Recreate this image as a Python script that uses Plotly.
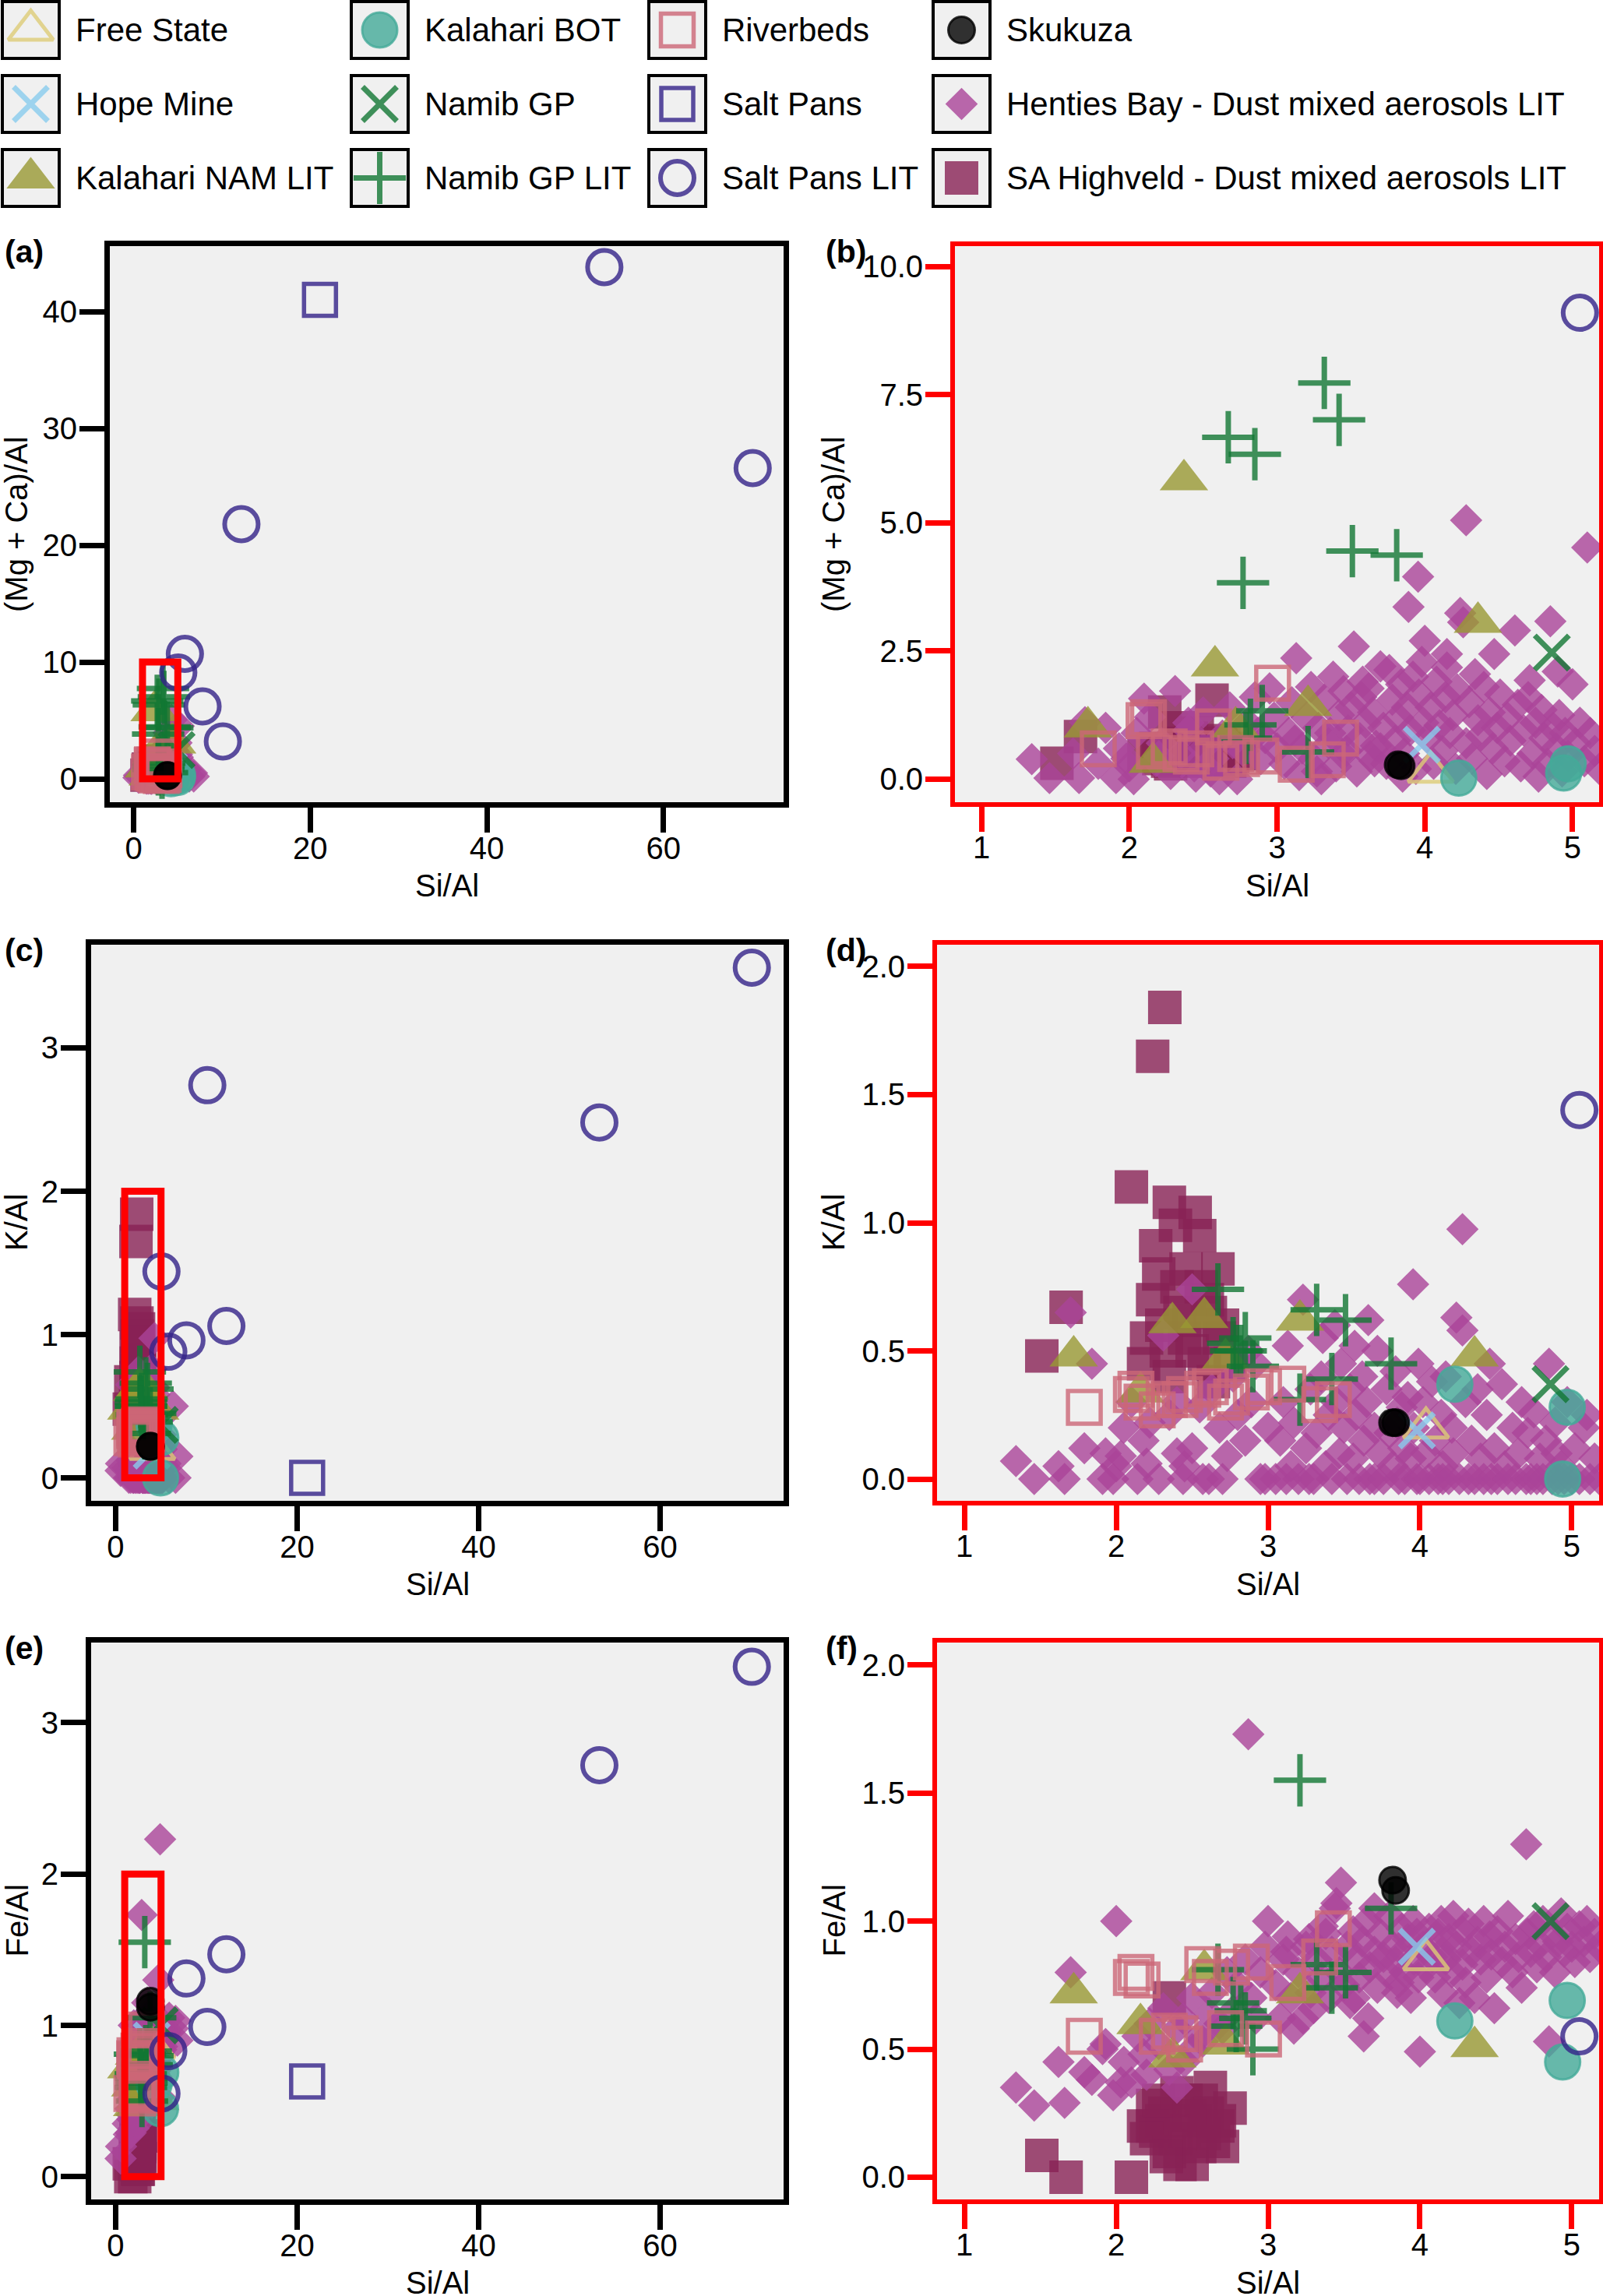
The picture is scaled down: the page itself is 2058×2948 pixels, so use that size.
import plotly.graph_objects as go

# ---- values: Si/Al, (Mg+Ca)/Al, K/Al, Fe/Al per group ----
fs_si = [4.04]
fs_mgca = [0.14]
fs_k = [0.20]
fs_fe = [0.85]

hm_si = [3.98]
hm_mgca = [0.67]
hm_k = [0.19]
hm_fe = [0.90]

kn_si = [1.72, 2.16, 2.37, 2.58, 2.72, 3.21, 4.36]
kn_mgca = [1.02, 0.33, 5.84, 2.21, 1.02, 1.44, 3.06]
kn_k = [0.48, 0.34, 0.61, 0.63, 0.47, 0.62, 0.48]
kn_fe = [0.72, 0.60, 0.47, 0.81, 0.52, 0.72, 0.51]

kb_si = [4.23, 4.97, 4.94]
kb_mgca = [0.02, 0.30, 0.12]
kb_k = [0.37, 0.28, 0.00]
kb_fe = [0.61, 0.69, 0.45]

ng_si = [4.86]
ng_mgca = [2.47]
ng_k = [0.37]
ng_fe = [1.00]

ngl_si = [2.67, 2.77, 2.79, 2.82, 2.85, 2.90, 3.21, 3.32, 3.42, 3.51, 3.81]
ngl_mgca = [6.67, 3.83, 0.80, 1.06, 6.34, 1.33, 0.53, 7.73, 7.01, 4.45, 4.37]
ngl_k = [0.74, 0.53, 0.50, 0.50, 0.55, 0.44, 0.31, 0.66, 0.39, 0.62, 0.45]
ngl_fe = [0.81, 0.68, 0.59, 0.65, 0.62, 0.50, 1.55, 0.83, 0.74, 0.80, 1.05]

rb_si = [1.79, 2.10, 2.13, 2.17, 2.27, 2.35, 2.42, 2.45, 2.57, 2.62, 2.72, 2.76, 2.89, 2.97, 3.13, 3.34, 3.43]
rb_mgca = [0.59, 1.14, 1.20, 0.55, 0.63, 0.50, 0.45, 0.59, 1.02, 0.33, 0.50, 0.40, 0.45, 1.87, 0.29, 0.38, 0.80]
rb_k = [0.28, 0.33, 0.35, 0.30, 0.27, 0.31, 0.31, 0.33, 0.35, 0.36, 0.30, 0.32, 0.34, 0.36, 0.37, 0.29, 0.31]
rb_fe = [0.55, 0.78, 0.80, 0.77, 0.55, 0.57, 0.56, 0.52, 0.83, 0.78, 0.58, 0.82, 0.84, 0.54, 0.76, 0.86, 0.97]

sp_si = [21.1]
sp_mgca = [41.0]
sp_k = [0.00]
sp_fe = [0.63]

spl_si = [70.1, 53.3, 12.2, 10.1, 7.8, 5.8, 5.05]
spl_mgca = [26.6, 43.8, 21.8, 3.2, 6.2, 10.7, 9.1]
spl_k = [3.56, 2.48, 1.06, 2.74, 0.96, 0.88, 1.44]
spl_fe = [3.37, 2.72, 1.47, 0.99, 1.31, 0.83, 0.55]

sk_si = [3.82, 3.84]
sk_mgca = [0.28, 0.26]
sk_k = [0.22, 0.22]
sk_fe = [1.16, 1.12]

hb_si = [0.55, 0.60, 1.34, 1.46, 1.62, 1.66, 1.70, 1.79, 1.84, 1.91, 1.93, 1.98,
         2.00, 2.03, 2.05, 2.10, 2.14, 2.18, 2.20, 2.22, 2.28, 2.31, 2.35,
         2.40, 2.40, 2.44, 2.45, 2.50, 2.50, 2.55, 2.57, 2.61, 2.63, 2.68,
         2.70, 2.73, 2.77, 2.80, 2.85, 2.87, 2.89, 2.92, 2.95, 2.98, 3.00,
         3.05, 3.08, 3.10, 3.12, 3.13, 3.15, 3.17, 3.20, 3.23, 3.25, 3.27,
         3.28, 3.30, 3.32, 3.35, 3.36, 3.38, 3.40, 3.42, 3.44, 3.45, 3.47,
         3.48, 3.50, 3.52, 3.54, 3.56, 3.57, 3.58, 3.60, 3.62, 3.63, 3.65,
         3.66, 3.67, 3.70, 3.70, 3.72, 3.74, 3.76, 3.78, 3.80, 3.82, 3.84,
         3.85, 3.86, 3.88, 3.89, 3.90, 3.92, 3.94, 3.955, 3.96, 3.98, 3.99,
         4.00, 4.02, 4.04, 4.06, 4.08, 4.10, 4.12, 4.14, 4.15, 4.15, 4.17, 4.19,
         4.21, 4.22, 4.24, 4.26, 4.28, 4.28, 4.30, 4.32, 4.34, 4.36, 4.38, 4.40,
         4.42, 4.44, 4.46, 4.47, 4.49, 4.51, 4.54, 4.56, 4.58, 4.61, 4.63, 4.65,
         4.67, 4.70, 4.71, 4.73, 4.75, 4.77, 4.79, 4.81, 4.83, 4.85, 4.87, 4.89,
         4.90, 4.91, 4.93, 4.95, 4.97, 5.00, 5.02, 5.05, 5.08, 5.10, 5.12, 5.15, 5.18,
         5.50, 5.90, 6.30, 6.60, 6.80]
hb_mgca = [0.10, 0.30, 0.39, 0.02, 0.50, 0.02, 1.11, 0.30, 1.00, 0.02, 0.60, 0.40,
           0.25, 0.00, 0.90, 1.57, 1.21, 0.35, 0.45, 0.70, 0.10, 1.72, 0.50,
           0.95, 1.10, 0.25, 0.05, 1.30, 0.60, 0.15, 0.40, 0.00, 0.85, 1.40,
           0.70, 0.00, 0.55, 1.10, 1.60, 0.90, 0.39, 0.80, 1.77, 1.20, 0.60,
           0.30, 0.90, 1.50, 0.75, 2.36, 0.08, 0.60, 1.20, 1.80, 0.40, 0.15,
           1.00, 0.00, 1.55, 0.70, 0.90, 2.00, 0.25, 1.25, 0.50, 1.72, 0.55,
           0.95, 1.40, 2.59, 0.15, 0.80, 1.60, 1.90, 1.10, 1.77, 0.45, 1.30,
           0.35, 0.65, 2.20, 0.60, 1.00, 0.30, 2.13, 1.55, 0.75, 1.20, 1.85,
           0.05, 0.50, 1.40, 3.36, 0.95, 2.00, 0.20, 3.95, 1.65, 2.29, 1.10,
           2.70, 0.80, 1.40, 0.30, 1.90, 1.05, 0.55, 1.60, 2.44, 2.18, 0.90, 1.25,
           0.20, 1.75, 3.24, 3.06, 5.05, 0.70, 1.50, 0.40, 2.05, 1.15, 0.85, 1.80,
           0.10, 1.30, 0.60, 2.44, 1.00, 1.65, 0.35, 1.20, 0.75, 2.90, 1.45, 0.25,
           0.95, 1.60, 1.93, 0.50, 1.10, 0.05, 1.35, 0.80, 0.30, 3.08, 1.00, 0.60,
           2.10, 1.25, 0.15, 0.90, 0.45, 1.85, 0.70, 1.10, 0.35, 4.52, 0.90, 0.55, 0.20,
           0.40, 0.80, 0.20, 0.50, 0.20]
hb_k = [0.05, 0.10, 0.07, 0.00, 0.05, 0.00, 0.65, 0.12, 0.45, 0.00, 0.10, 0.00,
        0.05, 0.09, 0.20, 0.30, 0.00, 0.15, 0.06, 0.22, 0.00, 0.56, 0.25,
        0.30, 0.10, 0.00, 0.05, 0.74, 0.12, 0.28, 0.00, 0.00, 0.35, 0.20,
        0.00, 0.09, 0.40, 0.25, 0.15, 0.50, 0.30, 0.45, 0.00, 0.00, 0.20,
        0.00, 0.15, 0.30, 0.00, 0.52, 0.05, 0.22, 0.00, 0.70, 0.12, 0.00,
        0.35, 0.00, 0.18, 0.40, 0.55, 0.05, 0.25, 0.00, 0.60, 0.30, 0.10,
        0.45, 0.20, 0.00, 0.35, 0.08, 0.52, 0.25, 0.00, 0.40, 0.15, 0.30,
        0.62, 0.00, 0.20, 0.00, 0.50, 0.10, 0.00, 0.35, 0.18, 0.05, 0.42,
        0.22, 0.00, 0.28, 0.12, 0.00, 0.32, 0.08, 0.76, 0.20, 0.00, 0.45,
        0.00, 0.30, 0.10, 0.00, 0.38, 0.15, 0.00, 0.25, 0.05, 0.00, 0.40, 0.00,
        0.20, 0.10, 0.63, 0.00, 0.975, 0.58, 0.30, 0.00, 0.15, 0.00, 0.35, 0.08,
        0.00, 0.25, 0.45, 0.00, 0.12, 0.00, 0.37, 0.05, 0.00, 0.20, 0.00, 0.10,
        0.30, 0.00, 0.18, 0.00, 0.26, 0.00, 0.08, 0.00, 0.15, 0.45, 0.00, 0.22,
        0.10, 0.00, 0.05, 0.00, 0.30, 0.00, 0.12, 0.00, 0.20, 0.25, 0.00, 0.08, 0.00,
        0.10, 0.00, 0.50, 0.00, 0.15]
hb_fe = [0.12, 0.20, 0.35, 0.28, 0.45, 0.29, 0.80, 0.41, 0.38, 0.50, 0.52, 0.32,
         1.00, 0.37, 0.45, 0.37, 0.55, 0.48, 0.40, 0.60, 0.52, 0.66, 0.42,
         0.58, 0.35, 0.62, 0.45, 0.70, 0.50, 0.55, 0.53, 0.64, 0.72, 0.60,
         0.58, 0.80, 0.65, 0.75, 0.85, 1.73, 0.70, 0.62, 0.80, 0.90, 1.00,
         0.75, 0.62, 0.85, 0.88, 0.94, 0.70, 0.58, 0.80, 0.62, 0.90, 0.93,
         0.72, 0.66, 0.85, 0.78, 0.98, 0.95, 0.70, 0.88, 1.05, 1.07, 0.80,
         1.15, 0.75, 0.90, 0.68, 0.96, 0.70, 0.85, 0.78, 0.92, 0.55, 1.00,
         0.62, 0.82, 0.88, 1.05, 0.74, 0.95, 0.86, 0.80, 1.02, 0.90, 0.84,
         0.72, 0.76, 0.97, 0.88, 0.80, 0.93, 0.70, 1.00, 0.85, 0.95, 0.78,
         0.49, 0.90, 0.82, 0.97, 0.86, 0.78, 0.95, 1.00, 0.88, 0.72, 0.85, 0.93,
         0.80, 1.02, 0.90, 0.68, 0.96, 0.83, 0.76, 0.99, 0.88, 0.70, 0.92, 0.85,
         1.00, 0.78, 0.94, 0.87, 0.66, 0.96, 0.84, 0.90, 1.02, 0.80, 0.93, 0.86,
         0.74, 1.30, 0.95, 0.88, 0.98, 0.82, 0.91, 1.00, 0.86, 0.53, 0.95, 0.80,
         2.23, 0.92, 1.03, 0.88, 0.97, 0.90, 0.84, 0.98, 0.92, 1.00, 0.86, 0.95, 0.90,
         0.95, 1.05, 0.98, 1.03, 0.90]

sa_si = [1.51, 1.67, 2.10, 2.24, 2.32, 2.35, 2.52, 2.39, 2.26, 2.46, 2.67, 2.24, 2.56, 2.62, 2.70, 2.30,
         2.45, 2.60, 2.18, 2.50, 2.75, 2.20, 2.35, 2.58, 2.42, 2.68, 2.28, 2.55, 2.40, 2.48, 2.33, 2.64]
sa_mgca = [0.31, 0.83, 0.45, 0.50, 0.60, 0.70, 0.55, 0.40, 0.35, 0.90, 0.60, 1.31, 1.54, 0.70, 0.45, 0.55,
           0.35, 0.50, 0.60, 0.45, 0.50, 0.40, 0.65, 0.40, 0.80, 0.35, 0.30, 0.60, 0.50, 0.40, 1.00, 0.75]
sa_k = [0.48, 0.67, 1.14, 1.65, 1.84, 1.08, 1.04, 0.99, 0.91, 0.82, 0.82, 0.70, 0.75, 0.65, 0.60, 0.60,
        0.55, 0.70, 0.45, 0.50, 0.45, 0.55, 0.40, 0.45, 0.65, 0.55, 0.80, 0.95, 0.75, 0.62, 0.50, 0.38]
sa_fe = [0.085, 0.00, 0.00, 0.20, 0.25, 0.70, 0.22, 0.15, 0.18, 0.30, 0.20, 0.28, 0.30, 0.35, 0.12, 0.22,
         0.18, 0.25, 0.20, 0.05, 0.27, 0.15, 0.10, 0.17, 0.05, 0.22, 0.30, 0.12, 0.33, 0.24, 0.08, 0.14]

HB = "Henties Bay - Dust mixed aerosols LIT"
SA = "SA Highveld - Dust mixed aerosols LIT"

groups = {
    "Free State": (fs_si, fs_mgca, fs_k, fs_fe),
    "Hope Mine": (hm_si, hm_mgca, hm_k, hm_fe),
    "Kalahari NAM LIT": (kn_si, kn_mgca, kn_k, kn_fe),
    "Kalahari BOT": (kb_si, kb_mgca, kb_k, kb_fe),
    "Namib GP": (ng_si, ng_mgca, ng_k, ng_fe),
    "Namib GP LIT": (ngl_si, ngl_mgca, ngl_k, ngl_fe),
    "Riverbeds": (rb_si, rb_mgca, rb_k, rb_fe),
    "Salt Pans": (sp_si, sp_mgca, sp_k, sp_fe),
    "Salt Pans LIT": (spl_si, spl_mgca, spl_k, spl_fe),
    "Skukuza": (sk_si, sk_mgca, sk_k, sk_fe),
    HB: (hb_si, hb_mgca, hb_k, hb_fe),
    SA: (sa_si, sa_mgca, sa_k, sa_fe),
}
legend_order = list(groups.keys())
draw_order = [SA, HB] + legend_order[:10]

W, H = 2058, 2948
FONT = "Liberation Sans, Arial, sans-serif"


def rgba(rgb, a=0.8):
    return "rgba(%d,%d,%d,%s)" % (rgb[0], rgb[1], rgb[2], a)


# symbol, size, rgb, line width
styles = {
    "Free State": ("triangle-up-open", 50, (221, 204, 119), 5),
    "Hope Mine": ("x-thin", 44, (136, 204, 238), 7),
    "Kalahari NAM LIT": ("triangle-up", 54, (153, 153, 51), 0),
    "Kalahari BOT": ("circle", 45, (68, 170, 153), 3),
    "Namib GP": ("x-thin", 44, (17, 119, 51), 7),
    "Namib GP LIT": ("cross-thin", 48, (17, 119, 51), 7),
    "Riverbeds": ("square-open", 42, (204, 102, 119), 5.5),
    "Salt Pans": ("square-open", 41, (51, 34, 136), 5.5),
    "Salt Pans LIT": ("circle-open", 43, (51, 34, 136), 6),
    "Skukuza": ("circle", 34, (0, 0, 0), 3),
    HB: ("diamond", 32, (170, 68, 153), 0),
    SA: ("square", 43, (136, 34, 85), 0),
}


def marker(name):
    sym, size, rgb, lw = styles[name]
    return dict(symbol=sym, size=size, color=rgba(rgb),
                line=dict(width=lw, color=rgba(rgb)))


# panel -> (x axis, y axis, column of groups tuple)
panels = [("x", "y", 1), ("x2", "y2", 1), ("x3", "y3", 2),
          ("x4", "y4", 2), ("x5", "y5", 3), ("x6", "y6", 3)]

fig = go.Figure()
for name in draw_order:
    vals = groups[name]
    for xa, ya, col in panels:
        fig.add_trace(go.Scatter(x=vals[0], y=vals[col], mode="markers", name=name,
                                 xaxis=xa, yaxis=ya, marker=marker(name),
                                 showlegend=False, hoverinfo="skip"))

# ---- hand-drawn legend (markers sit in grey boxes, column-major order) ----
col_left = [3, 451, 833, 1198]
row_mid = [38.5, 133.5, 228.5]
box = 73
shapes = []
annotations = []
for i, name in enumerate(legend_order):
    c, r = divmod(i, 3)
    cx = col_left[c] + box / 2
    fig.add_trace(go.Scatter(x=[cx], y=[row_mid[r]], mode="markers", xaxis="x7", yaxis="y7",
                             marker=marker(name), showlegend=False, hoverinfo="skip"))
    shapes.append(dict(type="rect", xref="x7", yref="y7", x0=col_left[c], x1=col_left[c] + box,
                       y0=row_mid[r] - 36.5, y1=row_mid[r] + 36.5, fillcolor="#f0f0f0",
                       line=dict(color="black", width=4), layer="below"))
    annotations.append(dict(xref="x7", yref="y7", x=col_left[c] + 92, y=row_mid[r],
                            text=name, showarrow=False, xanchor="left", yanchor="middle",
                            font=dict(family=FONT, size=42, color="black")))


def ax(domain, rng, color, lw, tickvals, anchor, standoff, fmt=None):
    d = dict(domain=domain, range=rng, anchor=anchor, showgrid=False, zeroline=False,
             showline=True, mirror=True, linecolor=color, linewidth=lw,
             ticks="outside", ticklen=32, tickwidth=7, tickcolor=color,
             ticklabelstandoff=standoff,
             tickvals=tickvals, tickfont=dict(family=FONT, size=40, color="black"))
    if fmt:
        d["tickformat"] = fmt
    return d


left_x = [-2.7, 73.6]
right_x = [0.82, 5.18]
xa_l = [141 / W, 1006 / W]
xa_l2 = [117 / W, 1006 / W]
xb = [1226 / W, 2053 / W]
xd = [1203 / W, 2053 / W]
row_px = [(316, 1030), (1213, 1927), (2109, 2824)]
ydom = [[1 - b / H, 1 - t / H] for t, b in row_px]
XS, YS = -14, -5

fig.update_layout(
    xaxis=ax(xa_l, left_x, "black", 7, [0, 20, 40, 60], "y", XS),
    yaxis=ax(ydom[0], [-2.0, 45.6], "black", 7, [0, 10, 20, 30, 40], "x", YS),
    xaxis2=ax(xb, right_x, "red", 6, [1, 2, 3, 4, 5], "y2", XS),
    yaxis2=ax(ydom[0], [-0.45, 10.4], "red", 6, [0, 2.5, 5, 7.5, 10], "x2", YS, ".1f"),
    xaxis3=ax(xa_l2, left_x, "black", 7, [0, 20, 40, 60], "y3", XS),
    yaxis3=ax(ydom[1], [-0.16, 3.72], "black", 7, [0, 1, 2, 3], "x3", YS),
    xaxis4=ax(xd, right_x, "red", 6, [1, 2, 3, 4, 5], "y4", XS),
    yaxis4=ax(ydom[1], [-0.085, 2.085], "red", 6, [0, 0.5, 1, 1.5, 2], "x4", YS, ".1f"),
    xaxis5=ax(xa_l2, left_x, "black", 7, [0, 20, 40, 60], "y5", XS),
    yaxis5=ax(ydom[2], [-0.15, 3.53], "black", 7, [0, 1, 2, 3], "x5", YS),
    xaxis6=ax(xd, right_x, "red", 6, [1, 2, 3, 4, 5], "y6", XS),
    yaxis6=ax(ydom[2], [-0.087, 2.088], "red", 6, [0, 0.5, 1, 1.5, 2], "x6", YS, ".1f"),
    xaxis7=dict(domain=[0, 1], range=[0, W], visible=False, anchor="y7"),
    yaxis7=dict(domain=[1 - 280 / H, 1], range=[280, 0], visible=False, anchor="x7"),
)

# grey plot backgrounds
for xa, ya, _ in panels:
    shapes.append(dict(type="rect", xref=xa + " domain", yref=ya + " domain", x0=0, x1=1, y0=0, y1=1,
                       fillcolor="#f0f0f0", line=dict(width=0), layer="below"))

# red boxes marking the zoomed region on the left panels
for xa, ya, top in [("x", "y", 10), ("x3", "y3", 2), ("x5", "y5", 2)]:
    shapes.append(dict(type="rect", xref=xa, yref=ya, x0=1, x1=5, y0=0, y1=top,
                       line=dict(color="red", width=9), fillcolor="rgba(0,0,0,0)", layer="above"))

# panel letters, axis titles
ytitles = ["(Mg + Ca)/Al", "K/Al", "Fe/Al"]
letters = ["(a)", "(b)", "(c)", "(d)", "(e)", "(f)"]
for r, (t, b) in enumerate(row_px):
    for c, (xdom, lab_x, yt_x) in enumerate([(xa_l if r == 0 else xa_l2, 4, 21),
                                              (xb if r == 0 else xd, 1058, 1070)]):
        annotations.append(dict(xref="paper", yref="paper", x=lab_x / W, y=1 - (t + 7) / H,
                                text="<b>%s</b>" % letters[2 * r + c], showarrow=False,
                                xanchor="left", yanchor="middle",
                                font=dict(family=FONT, size=41, color="black")))
        annotations.append(dict(xref="paper", yref="paper", x=yt_x / W, y=1 - (t + b) / 2 / H,
                                text=ytitles[r], textangle=-90, showarrow=False,
                                xanchor="center", yanchor="middle",
                                font=dict(family=FONT, size=40, color="black")))
        annotations.append(dict(xref="paper", yref="paper", x=(xdom[0] + xdom[1]) / 2,
                                y=1 - (b + 107) / H, text="Si/Al", showarrow=False,
                                xanchor="center", yanchor="middle",
                                font=dict(family=FONT, size=40, color="black")))

fig.update_layout(width=W, height=H, margin=dict(l=0, r=0, t=0, b=0),
                  paper_bgcolor="white", plot_bgcolor="rgba(0,0,0,0)",
                  showlegend=False, shapes=shapes, annotations=annotations,
                  font=dict(family=FONT, color="black"))

# drop the browser's default 8px body margin so the figure sits flush at the page corner
fig.write_html("out.html", config={"displayModeBar": False},
               post_script="document.body.style.margin='0';")
